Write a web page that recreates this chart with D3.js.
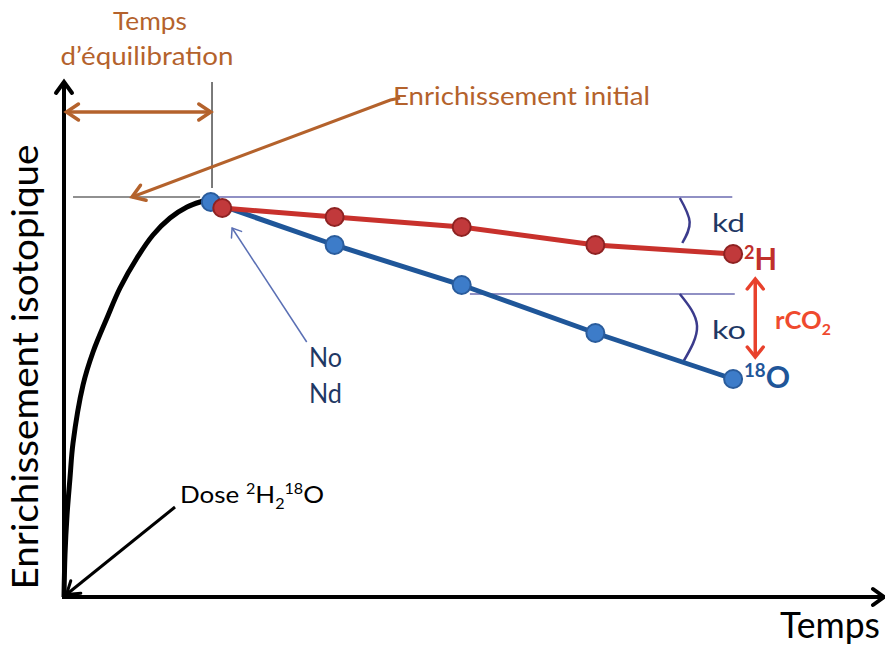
<!DOCTYPE html>
<html>
<head>
<meta charset="utf-8">
<script src="https://cdn.jsdelivr.net/npm/d3@7"></script>
<style>
  body { margin: 0; background: #fff; }
  text { font-family: Lato, "Open Sans", sans-serif; }
</style>
</head>
<body>
<div id="chart"></div>
<script>

// equilibration curve after the dose (time, enrichment)
var curveTime = [0, 0.012, 0.037, 0.073, 0.11, 0.232, 0.354, 0.524, 0.683, 0.89, 1.085, 1.293, 1.5, 1.659, 1.756];
var curveEnr  = [0, 0.84, 1.64, 2.38, 3.08, 4.24, 4.9, 5.58, 6.18, 6.78, 7.24, 7.58, 7.8, 7.9, 7.94];

// 18O samples
var timeO = [1.79, 3.30, 4.85, 6.48, 8.16];
var enrO  = [7.9, 7.04, 6.24, 5.28, 4.36];

// 2H samples
var timeH = [1.93, 3.30, 4.85, 6.48, 8.16];
var enrH  = [7.78, 7.6, 7.4, 7.04, 6.86];

var width = 885, height = 648;

var x = d3.scaleLinear().domain([0, 10]).range([64, 884]);
var y = d3.scaleLinear().domain([0, 10]).range([597, 97]);

var svg = d3.select("#chart").append("svg")
    .attr("width", width)
    .attr("height", height);

var brown = "#b4622c", navy = "#1f3864", purple = "#6b6bb0";

//arrow heads
var defs = svg.append("defs");
function marker(id, color, len, half, sw) {
    defs.append("marker")
        .attr("id", id)
        .attr("markerUnits", "userSpaceOnUse")
        .attr("viewBox", (-len - 4) + " " + (-half - 4) + " " + (len + 8) + " " + (2 * half + 8))
        .attr("markerWidth", len + 8)
        .attr("markerHeight", 2 * half + 8)
        .attr("refX", 0).attr("refY", 0)
        .attr("orient", "auto-start-reverse")
      .append("path")
        .attr("d", "M" + (-len) + "," + (-half) + "L0,0L" + (-len) + "," + half)
        .attr("fill", "none")
        .attr("stroke", color)
        .attr("stroke-width", sw)
        .attr("stroke-linecap", "round");
}
marker("axis", "#000", 11, 8, 4);
marker("brown", brown, 12, 8, 3.5);
marker("black", "#000", 12, 8, 3);
marker("thin", "#5a6fb4", 8, 6, 1.5);
marker("red", "#e8412c", 10, 8, 3.5);

var line = d3.line().x(function(d) { return x(d[0]); }).y(function(d) { return y(d[1]); });

function seg(p, color, w, start, end) {
    var l = svg.append("path")
        .attr("d", line(p))
        .attr("fill", "none")
        .attr("stroke", color)
        .attr("stroke-width", w);
    if (start) l.attr("marker-start", "url(#" + start + ")");
    if (end) l.attr("marker-end", "url(#" + end + ")");
    return l;
}

// axes
seg([[0, -0.04], [0, 10.3]], "#000", 4, null, "axis");
seg([[-0.02, 0], [10, 0]], "#000", 4, null, "axis");

// reference lines
seg([[0.11, 8.0], [1.66, 8.0]], "#222", 1.2);
seg([[1.805, 8.18], [1.805, 10.3]], "#222", 1.2);
seg([[1.85, 8.0], [8.15, 8.0]], purple, 1.5);
seg([[4.95, 6.06], [8.18, 6.06]], purple, 1.5);

// equilibration time
seg([[0.03, 9.7], [1.79, 9.7]], brown, 3.5, "brown", "brown");
seg([[4.1, 9.98], [3.98, 9.94], [0.83, 8.0]], brown, 3, null, "brown");

// angles
var arc = d3.line().x(function(d) { return x(d[0]); }).y(function(d) { return y(d[1]); })
    .curve(d3.curveNatural);
svg.append("path").attr("d", arc([[7.51, 7.98], [7.63, 7.5], [7.54, 7.08]]))
    .attr("fill", "none").attr("stroke", "#3b3b8c").attr("stroke-width", 2.5);
svg.append("path").attr("d", arc([[7.51, 6.06], [7.72, 5.42], [7.55, 4.7]]))
    .attr("fill", "none").attr("stroke", "#3b3b8c").attr("stroke-width", 2.5);

// black equilibration curve
svg.append("path")
    .datum(d3.zip(curveTime, curveEnr))
    .attr("d", d3.line().x(function(d) { return x(d[0]); }).y(function(d) { return y(d[1]); })
        .curve(d3.curveCatmullRom.alpha(0.5)))
    .attr("fill", "none")
    .attr("stroke", "#000")
    .attr("stroke-width", 5);

// sample lines
svg.append("path").datum(d3.zip(timeO, enrO)).attr("d", line)
    .attr("fill", "none").attr("stroke", "#1f5699").attr("stroke-width", 5);
svg.append("path").datum(d3.zip(timeH, enrH)).attr("d", line)
    .attr("fill", "none").attr("stroke", "#c8312c").attr("stroke-width", 5);

svg.selectAll(".ptO").data(d3.zip(timeO, enrO)).enter().append("circle")
    .attr("class", "ptO")
    .attr("cx", function(d) { return x(d[0]); })
    .attr("cy", function(d) { return y(d[1]); })
    .attr("r", 9)
    .attr("fill", "#3d7cc9").attr("stroke", "#2a5c9c").attr("stroke-width", 2);
svg.selectAll(".ptH").data(d3.zip(timeH, enrH)).enter().append("circle")
    .attr("class", "ptH")
    .attr("cx", function(d) { return x(d[0]); })
    .attr("cy", function(d) { return y(d[1]); })
    .attr("r", 9)
    .attr("fill", "#c1393b").attr("stroke", "#8e2222").attr("stroke-width", 2);

// other arrows
seg([[2.96, 5.1], [2.05, 7.38]], "#5a6fb4", 1.5, null, "thin");
seg([[1.354, 1.8], [0.03, 0.05]], "#000", 3, null, "black");
seg([[8.43, 6.36], [8.43, 4.8]], "#e8412c", 3.5, "red", "red");

// texts: parts are [text, size factor, dy]
function label(px, py, parts, opt) {
    var t = svg.append("text")
        .attr("x", px).attr("y", py)
        .attr("fill", opt.color || "#000")
        .attr("font-size", opt.size)
        .attr("font-weight", opt.weight || "normal")
        .attr("text-anchor", opt.anchor || "start");
    if (opt.rotate) t.attr("transform", "rotate(" + opt.rotate + "," + px + "," + py + ")");
    if (opt.len) t.attr("textLength", opt.len).attr("lengthAdjust", "spacingAndGlyphs");
    parts.forEach(function(p) {
        var s = t.append("tspan").text(p[0]);
        if (p[1]) s.attr("font-size", opt.size * p[1]);
        if (p[2]) s.attr("dy", p[2]);
    });
    return t;
}

label(150, 30, [["Temps"]], {color: brown, size: 25, anchor: "middle", len: 74});
label(147, 65, [["d\u2019\u00e9quilibration"]], {color: brown, size: 25, anchor: "middle", len: 173});
label(393, 105, [["Enrichissement initial"]], {color: brown, size: 25, len: 257});
label(38, 367, [["Enrichissement isotopique"]], {size: 36, anchor: "middle", rotate: -90, len: 445});
label(880, 638, [["Temps"]], {size: 36, anchor: "end", len: 100});
label(712, 232, [["kd"]], {color: navy, size: 25, len: 33});
label(712, 339, [["ko"]], {color: navy, size: 25, len: 34});
label(309, 367, [["No"]], {color: navy, size: 26, len: 33});
label(309, 403, [["Nd"]], {color: navy, size: 26, len: 33});
label(180, 503, [["Dose "], ["2", 0.62, -8.6], ["H", 1, 8.6], ["2", 0.62, 5.8], ["18", 0.62, -14.4], ["O", 1, 8.6]],
    {size: 24, len: 144});
label(775, 329, [["rCO"], ["2", 0.62, 5.8]], {color: "#ef4a2e", size: 24, weight: "bold", len: 56});
label(744, 270, [["2", 0.62, -11], ["H", 1, 11]], {color: "#c0302b", size: 30, weight: "bold", len: 33});
label(744, 388, [["18", 0.62, -11], ["O", 1, 11]], {color: "#1f5699", size: 30, weight: "bold", len: 46});

</script>
</body>
</html>
